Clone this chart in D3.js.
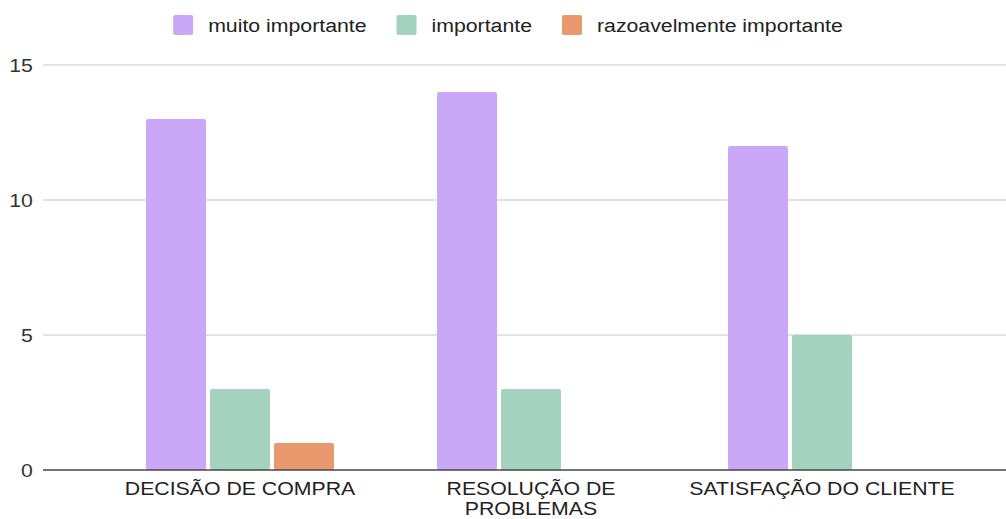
<!DOCTYPE html>
<html><head><meta charset="utf-8">
<script src="https://cdn.jsdelivr.net/npm/d3@7"></script>
<style>html,body{margin:0;padding:0;background:#fff;}</style>
</head><body>
<svg id="c" width="1006" height="519"></svg>
<script>
const categories = ["DECISÃO DE COMPRA", "RESOLUÇÃO DE PROBLEMAS", "SATISFAÇÃO DO CLIENTE"];
const seriesNames = ["muito importante", "importante", "razoavelmente importante"];
const muitoImportante = [13, 14, 12];
const importante = [3, 3, 5];
const razoavelmente = [1, 0, 0];
const yTicks = [0, 5, 10, 15];
const colors = ["#c8a8f7", "#a3d2bf", "#e8996e"];

const seriesValues = [muitoImportante, importante, razoavelmente];
const font = "'Liberation Sans', Arial, sans-serif";
const SX = 1.12; // horizontal text stretch seen in the reference
const svg = d3.select("#c");

const plotLeft = 43, plotRight = 1006, plotTop = 65, plotBottom = 470;

const y = d3.scaleLinear().domain([0, 15]).range([plotBottom, plotTop]);
const x0 = d3.scaleBand().domain(categories).range([94.5, 967.5]);
const x1 = d3.scaleBand().domain(seriesNames).range([0, 188]).paddingInner(0.0625);
const groupOffset = (x0.bandwidth() - 188) / 2;

// y axis labels + gridlines
const yAxis = d3.axisLeft(y).tickValues(yTicks).tickSize(0).tickPadding(0);
const yg = svg.append("g").attr("transform", `translate(${plotLeft},0)`);
yg.call(yAxis);
yg.select(".domain").remove();
yg.selectAll("text").attr("font-family", font).attr("font-size", 19).attr("fill", "#333")
  .attr("x", -9).attr("dy", "0.36em").attr("transform", `scale(${SX},1)`);
svg.append("g").selectAll("line").data(yTicks.filter(d => d > 0)).join("line")
  .attr("x1", plotLeft).attr("x2", plotRight)
  .attr("y1", d => y(d)).attr("y2", d => y(d))
  .attr("stroke", "#d9d9d9").attr("stroke-width", 1.5);

// bars
const groups = svg.append("g").selectAll("g").data(categories).join("g")
  .attr("transform", c => `translate(${x0(c) + groupOffset},0)`);
groups.selectAll("rect").data((c, ci) => seriesNames.map((s, si) => ({s, si, v: seriesValues[si][ci]})).filter(d => d.v > 0))
  .join("rect")
  .attr("x", d => x1(d.s)).attr("width", x1.bandwidth())
  .attr("y", d => y(d.v)).attr("height", d => y(0) - y(d.v))
  .attr("rx", 2).attr("ry", 2)
  .attr("fill", d => colors[d.si]);

// x axis
const xAxis = d3.axisBottom(x0).tickSize(0).tickPadding(10);
const xg = svg.append("g").attr("transform", `translate(0,${plotBottom})`).call(xAxis);
xg.select(".domain").remove();
svg.append("line").attr("x1", plotLeft).attr("x2", plotRight).attr("y1", plotBottom).attr("y2", plotBottom)
  .attr("stroke", "#444").attr("stroke-width", 1.5);
xg.selectAll("text").attr("font-family", font).attr("font-size", 19).attr("fill", "#222")
  .attr("transform", `scale(${SX},1)`)
  .each(function(d) {
    const t = d3.select(this);
    const maxW = (x0.bandwidth() - 10) / SX;
    const words = d.split(" ");
    t.text(null);
    let lines = [], cur = [];
    const tmp = t.append("tspan");
    for (const w of words) {
      cur.push(w);
      tmp.text(cur.join(" "));
      if (tmp.node().getComputedTextLength() > maxW && cur.length > 1) {
        cur.pop(); lines.push(cur.join(" ")); cur = [w];
      }
    }
    lines.push(cur.join(" "));
    tmp.remove();
    lines.forEach((l, i) => t.append("tspan").attr("x", 0).attr("dy", i === 0 ? "0.71em" : "1.05em").text(l));
  });
xg.selectAll("text").attr("y", 12).attr("dy", null);

// legend
const legend = svg.append("g");
let lx = 0;
const gap = 30;
seriesNames.forEach((s, i) => {
  const g = legend.append("g");
  g.append("rect").attr("width", 20).attr("height", 20).attr("rx", 2).attr("fill", colors[i]).attr("y", -10);
  const t = g.append("g").attr("transform", `translate(35,0) scale(${SX},1)`)
    .append("text").attr("dy", "0.35em").attr("font-family", font).attr("font-size", 19).attr("fill", "#222").text(s);
  const w = 35 + t.node().getComputedTextLength() * SX;
  g.attr("transform", `translate(${lx},0)`);
  lx += w + gap;
});
const totalW = lx - gap;
legend.attr("transform", `translate(${508 - totalW / 2},25)`);
</script>
</body></html>
